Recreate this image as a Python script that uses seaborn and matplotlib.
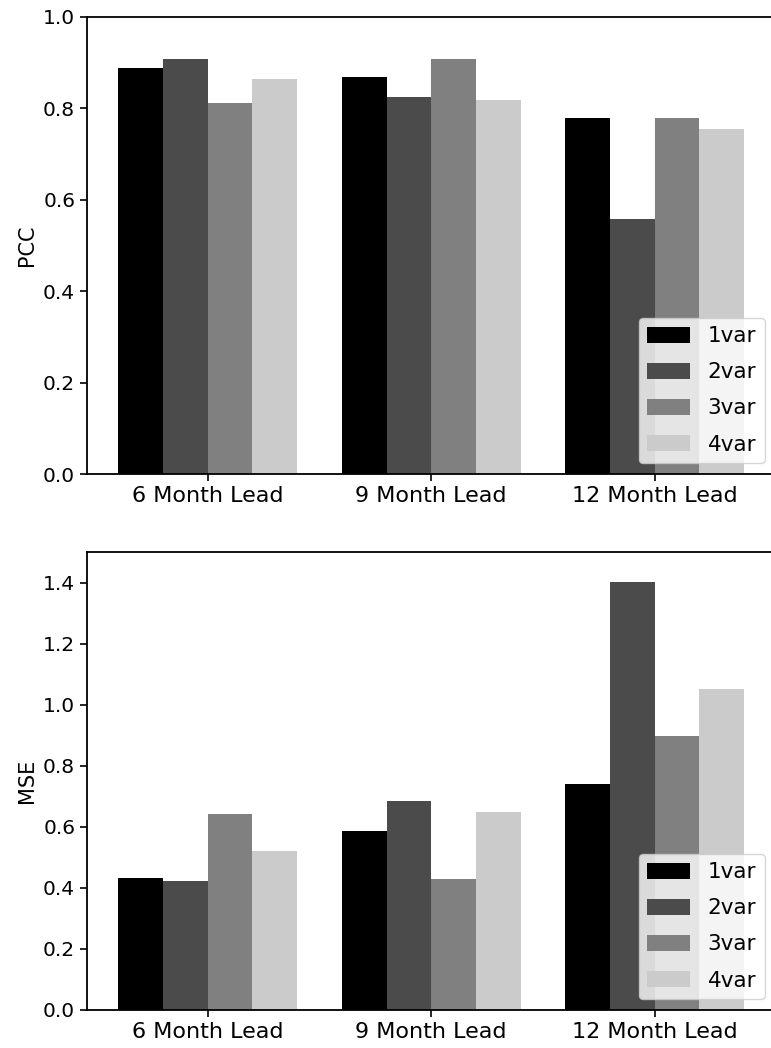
import matplotlib
matplotlib.use("Agg")
import matplotlib.pyplot as plt
import seaborn as sns
import pandas as pd

leads = ["6 Month Lead", "9 Month Lead", "12 Month Lead"]
models = ["1var", "2var", "3var", "4var"]
colors = ["#000000", "#4b4b4b", "#808080", "#cbcbcb"]

pcc_1var = [0.888, 0.869, 0.779]
pcc_2var = [0.908, 0.825, 0.558]
pcc_3var = [0.811, 0.908, 0.779]
pcc_4var = [0.864, 0.818, 0.755]

mse_1var = [0.432, 0.586, 0.740]
mse_2var = [0.421, 0.684, 1.402]
mse_3var = [0.641, 0.428, 0.896]
mse_4var = [0.520, 0.648, 1.050]


def long_frame(series):
    rows = []
    for m, vals in zip(models, series):
        for lead, v in zip(leads, vals):
            rows.append({"lead": lead, "model": m, "value": v})
    return pd.DataFrame(rows)


pcc_df = long_frame([pcc_1var, pcc_2var, pcc_3var, pcc_4var])
mse_df = long_frame([mse_1var, mse_2var, mse_3var, mse_4var])

sns.set_style("ticks")
plt.rcParams["font.family"] = ["DejaVu Sans"]
plt.rcParams["font.size"] = 15
plt.rcParams["axes.linewidth"] = 1.3
plt.rcParams["text.color"] = "black"
plt.rcParams["axes.labelcolor"] = "black"
plt.rcParams["xtick.color"] = "black"
plt.rcParams["ytick.color"] = "black"

fig = plt.figure(figsize=(7.71, 10.48), dpi=100)
ax1 = fig.add_axes([0.1128, 0.5477, 0.893, 0.4361])
ax2 = fig.add_axes([0.1128, 0.0363, 0.893, 0.4370])

for ax, df, ylabel, ylim in [(ax1, pcc_df, "PCC", (0, 1.0)), (ax2, mse_df, "MSE", (0, 1.5))]:
    sns.barplot(data=df, x="lead", y="value", hue="model", order=leads,
                hue_order=models, palette=colors, ax=ax, width=0.8,
                linewidth=0, edgecolor="none", saturation=1)
    ax.set_xlim(-0.54, 2.54)
    ax.set_ylim(*ylim)
    ax.set_xlabel("")
    ax.set_ylabel(ylabel, fontsize=15)
    ax.tick_params(axis="x", labelsize=16, width=1.2, length=5)
    ax.tick_params(axis="y", labelsize=14.5, width=1.2, length=5)
    for s in ax.spines.values():
        s.set_visible(True)
        s.set_color("black")
    ax.legend(loc="lower right", fontsize=15.5, framealpha=0.8,
              title=None, borderaxespad=0.5, labelspacing=0.75,
              handlelength=2.0, handleheight=0.75)

ax1.set_yticks([0.0, 0.2, 0.4, 0.6, 0.8, 1.0])
ax2.set_yticks([0.0, 0.2, 0.4, 0.6, 0.8, 1.0, 1.2, 1.4])

fig.savefig("out.png", dpi=100)
